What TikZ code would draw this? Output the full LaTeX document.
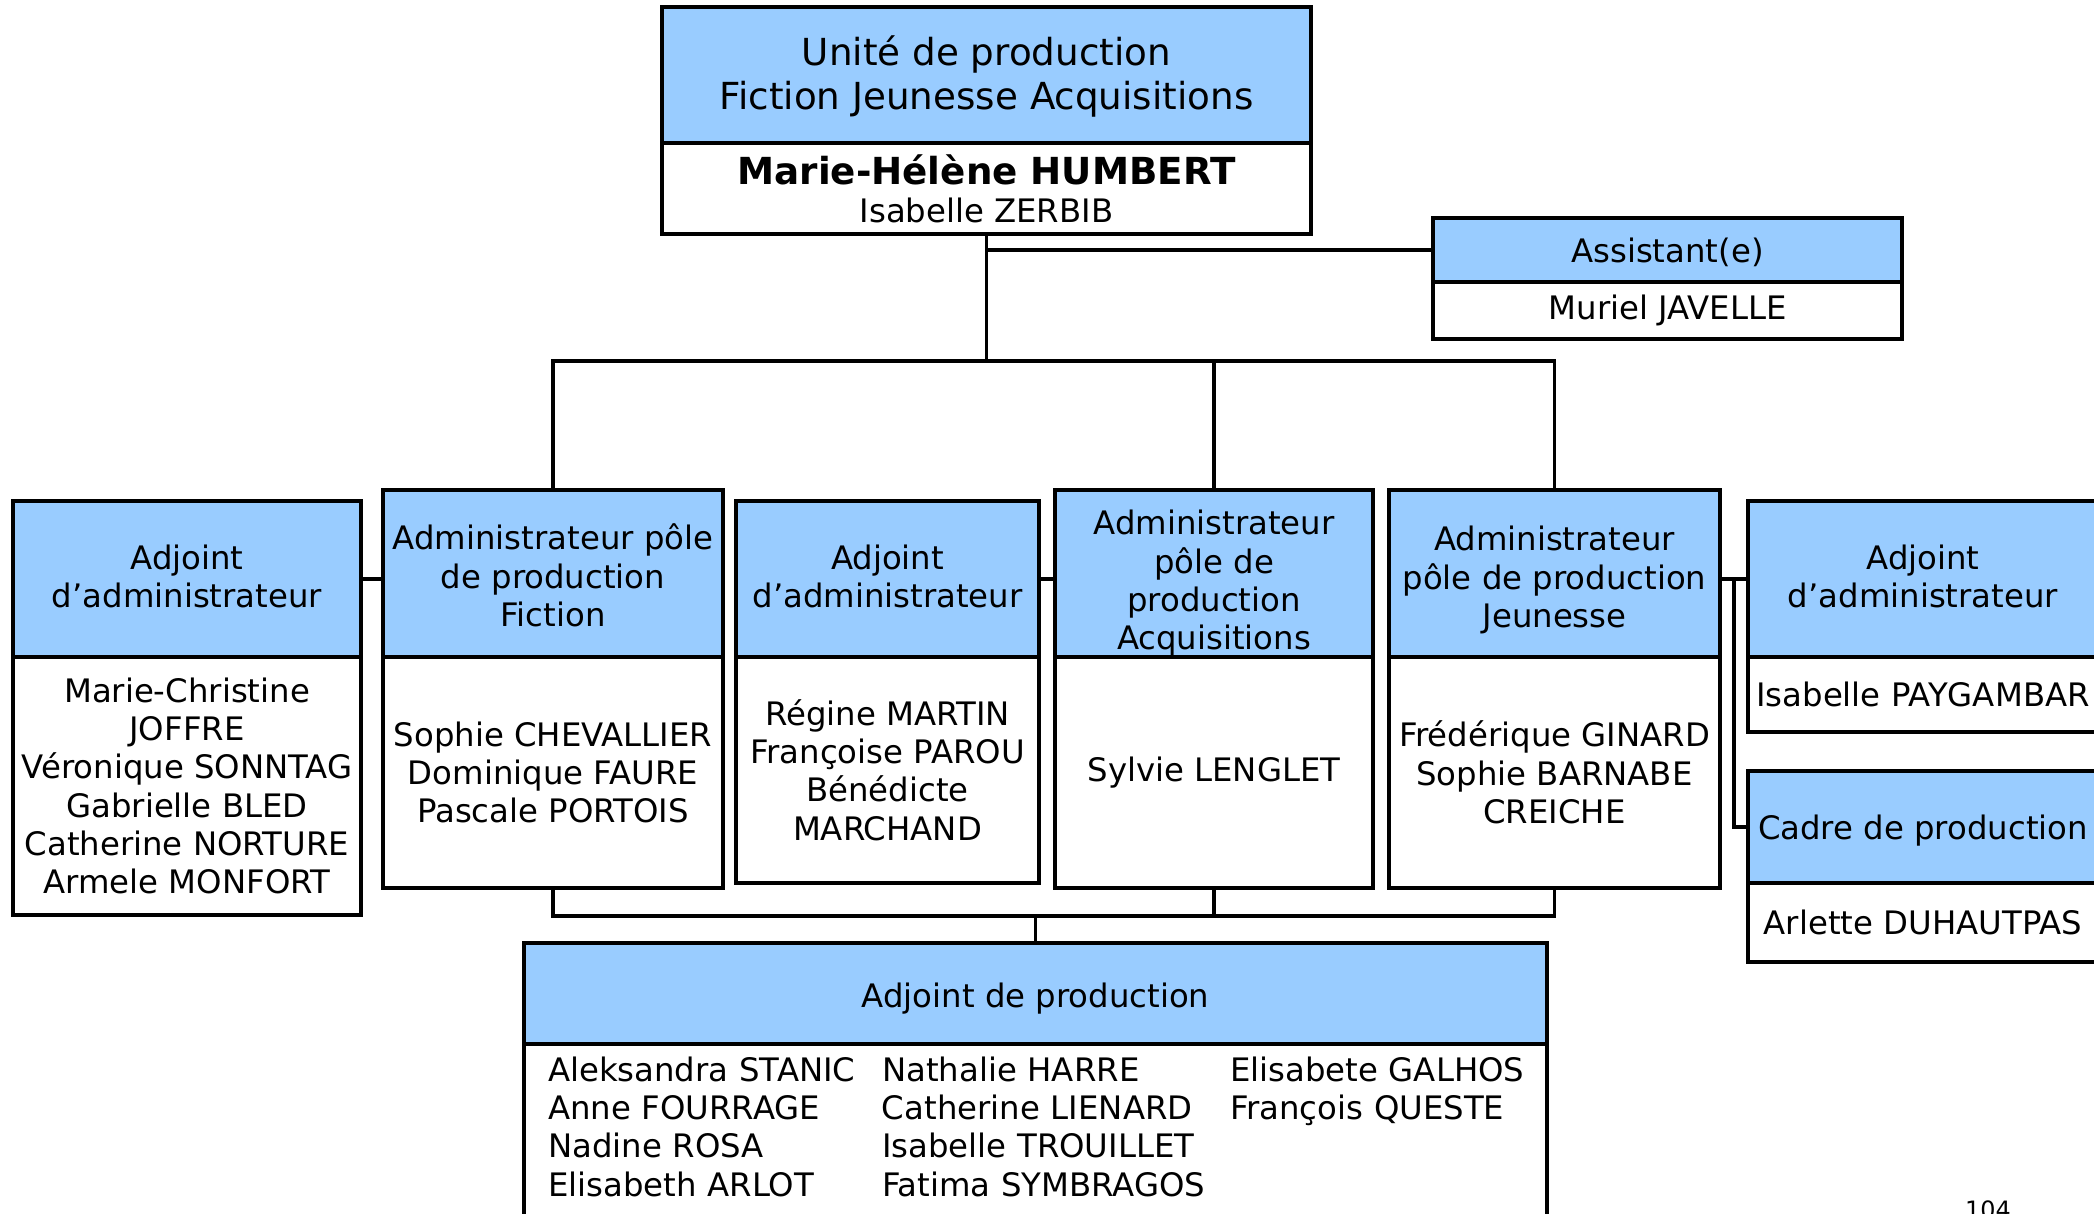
\documentclass[tikz,border=0pt]{standalone}
\usepackage{fontspec}
\setmainfont{DejaVu Sans}
\usetikzlibrary{positioning}
\definecolor{ink}{HTML}{000000}
\definecolor{headblue}{HTML}{99CCFF}
\newcommand{\bodyfont}{\fontsize{9.2}{10.9}\selectfont}
\newcommand{\titlefont}{\fontsize{10.6}{12.5}\selectfont}
% lower a stack of centred lines without changing its size
\newcommand{\low}[2]{\raisebox{-#1}[\height][\depth]{\begin{tabular}{@{}c@{}}#2\end{tabular}}}

\begin{document}
\begin{tikzpicture}[
  x=1cm,y=-1cm,draw=ink,text=ink,
  line width=0.95pt,line cap=rect,line join=miter,
  hd/.style={draw,fill=headblue,outer sep=0pt,inner sep=1pt,
    align=center,font=\bodyfont},
  bd/.style={draw,fill=white,outer sep=0pt,inner sep=1pt,
    align=center,font=\bodyfont},
  pageno/.style={font=\fontsize{6.8}{8}\selectfont,inner sep=0pt}
]
\useasboundingbox (0,0) rectangle (20.94,12.13);
\clip (0,0) rectangle (20.94,12.13);

% Head of the unit and its assistant.
\node[hd,font=\titlefont,minimum width=6.49cm,minimum height=1.36cm]
  (toph) at (9.865,0.75) {\low{0.04cm}{Unité de production\\Fiction Jeunesse Acquisitions}};
\node[bd,below=0pt of toph,minimum width=6.49cm,minimum height=0.91cm]
  (topb) {\titlefont\bfseries Marie-Hélène HUMBERT\\\bodyfont Isabelle ZERBIB};
\node[hd,minimum width=4.69cm,minimum height=0.64cm] (ash) at (16.675,2.50)
  {\low{0.05cm}{Assistant(e)}};
\node[bd,below=0pt of ash,minimum width=4.69cm,minimum height=0.57cm] (asb) {Muriel JAVELLE};

% Middle row: three poles with their deputies.
\node[hd,minimum width=3.48cm,minimum height=1.56cm] (b1h) at (1.87,5.79)
  {\low{0.02cm}{Adjoint\\d’administrateur}};
\node[bd,below=0pt of b1h,minimum width=3.48cm,minimum height=2.58cm] (b1b)
  {Marie-Christine\\JOFFRE\\Véronique SONNTAG\\Gabrielle BLED\\Catherine NORTURE\\Armele MONFORT};
\node[hd,minimum width=3.40cm,minimum height=1.67cm] (b2h) at (5.53,5.735)
  {\low{0.07cm}{Administrateur pôle\\de production\\Fiction}};
\node[bd,below=0pt of b2h,minimum width=3.40cm,minimum height=2.31cm] (b2b)
  {Sophie CHEVALLIER\\Dominique FAURE\\Pascale PORTOIS};
\node[hd,minimum width=3.03cm,minimum height=1.56cm] (b3h) at (8.875,5.79)
  {\low{0.02cm}{Adjoint\\d’administrateur}};
\node[bd,below=0pt of b3h,minimum width=3.03cm,minimum height=2.26cm] (b3b)
  {Régine MARTIN\\Françoise PAROU\\Bénédicte\\MARCHAND};
\node[hd,minimum width=3.18cm,minimum height=1.67cm] (b4h) at (12.14,5.735)
  {\low{0.11cm}{Administrateur\\pôle de\\production\\Acquisitions}};
\node[bd,below=0pt of b4h,minimum width=3.18cm,minimum height=2.31cm] (b4b)
  {Sylvie LENGLET};
\node[hd,minimum width=3.31cm,minimum height=1.67cm] (b5h) at (15.545,5.735)
  {\low{0.08cm}{Administrateur\\pôle de production\\Jeunesse}};
\node[bd,below=0pt of b5h,minimum width=3.31cm,minimum height=2.31cm] (b5b)
  {Frédérique GINARD\\Sophie BARNABE\\CREICHE};
\node[hd,minimum width=3.50cm,minimum height=1.56cm] (b6h) at (19.23,5.79)
  {\low{0.02cm}{Adjoint\\d’administrateur}};
\node[bd,below=0pt of b6h,minimum width=3.50cm,minimum height=0.75cm] (b6b)
  {Isabelle PAYGAMBAR};
\node[hd,minimum width=3.50cm,minimum height=1.12cm] (b7h) at (19.23,8.27)
  {\low{0.05cm}{Cadre de production}};
\node[bd,below=0pt of b7h,minimum width=3.50cm,minimum height=0.79cm] (b7b)
  {Arlette DUHAUTPAS};

% Production assistants, shared by all poles.
\node[hd,minimum width=10.23cm,minimum height=1.01cm] (prh) at (10.355,9.935)
  {\low{0.065cm}{Adjoint de production}};
\node[bd,below=0pt of prh,minimum width=10.23cm,minimum height=1.74cm,
  inner xsep=0.24cm,text width=9.75cm,align=left] (prb)
  {\begin{tabular}{@{}p{3.34cm}@{}p{3.48cm}@{}l@{}}
   Aleksandra STANIC & Nathalie HARRE & Elisabete GALHOS\\
   Anne FOURRAGE & Catherine LIENARD & François QUESTE\\
   Nadine ROSA & Isabelle TROUILLET & \\
   Elisabeth ARLOT & Fatima SYMBRAGOS & \\
   \end{tabular}};

\node[pageno,anchor=north] (pgno) at (19.88,11.99) {104};

% Connectors.
\coordinate (tbus) at (9.865,3.61);
\coordinate (bbus) at (10.355,9.16);
\coordinate (rjoin) at (17.34,5.79);
\draw (topb.south) -- (tbus);
\draw (topb.south |- ash.west) -- (ash.west);
\draw (b2h.north) |- (tbus) -| (b5h.north);
\draw (b4h.north) -- (b4h.north |- tbus);
\draw (b1h.east) -- (b1h.east -| b2h.west);
\draw (b3h.east) -- (b3h.east -| b4h.west);
\draw (b6h.west -| b5h.east) -- (b6h.west);
\draw (rjoin) |- (b7h.west);
\draw (b2b.south) |- (bbus) -| (b5b.south);
\draw (b4b.south) -- (b4b.south |- bbus);
\draw (bbus) -- (prh.north);

\end{tikzpicture}
\end{document}
